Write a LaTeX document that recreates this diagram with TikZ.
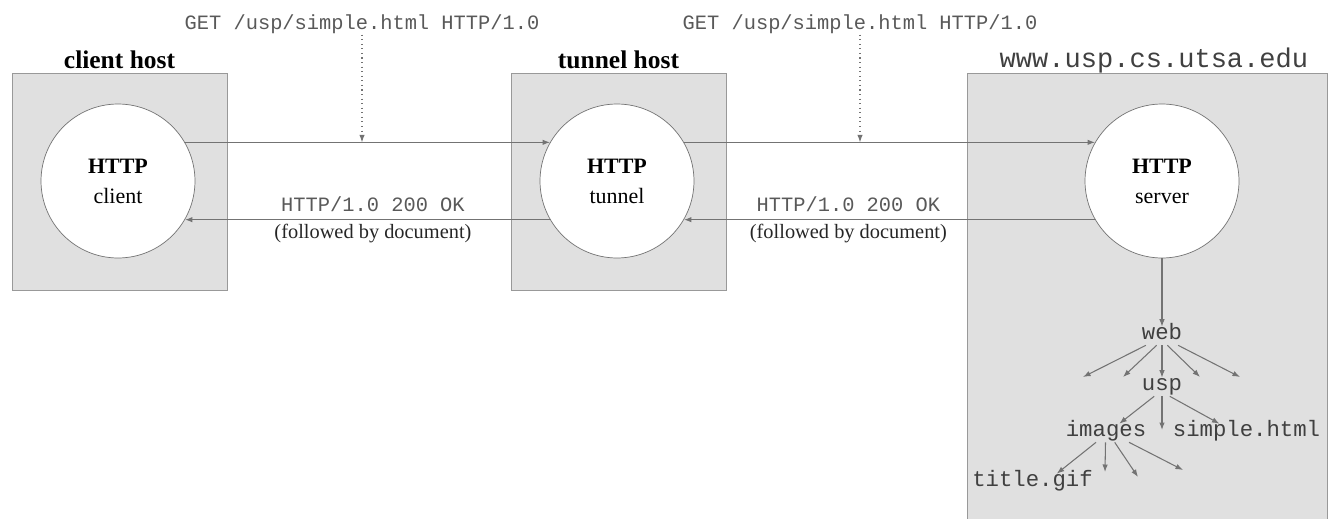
\documentclass[tikz,border=0pt]{standalone}
\usepackage{fontspec}
\setmainfont{Liberation Serif}
\setmonofont{Liberation Mono}
\usepackage{tikz}
\usetikzlibrary{positioning,arrows.meta}
\newcommand{\sz}[2]{\fontsize{#1}{#2}\selectfont}
\tikzset{
  host/.style={draw=black!40, fill=black!12, inner sep=0pt},
  hostlbl/.style={font=\sz{14.5}{17}\bfseries, inner sep=1pt},
  srvlbl/.style={font=\sz{15.4}{18}\ttfamily, text=black!75, inner sep=1pt},
  proc/.style={circle, draw=black!55, fill=white, minimum size=3.08cm, inner sep=0pt, align=center, font=\sz{12.5}{17}},
  msg/.style={font=\sz{11.6}{14}\ttfamily, text=black!65, inner sep=1pt, text height=0.62em, text depth=0.18em},
  note/.style={font=\sz{11.6}{14}, text=black!85, inner sep=1pt},
  file/.style={font=\sz{12.7}{15}\ttfamily, text=black!75, inner sep=1pt, text height=0.62em, text depth=0.2em},
  flow/.style={-{Latex[length=1.5mm, width=1.1mm]}, draw=black!55, line width=0.6pt},
  cue/.style={flow, dotted},
}
\begin{document}
\begin{tikzpicture}[x=0.02cm, y=-0.02cm]
  \useasboundingbox (0,0) rectangle (1330,518);
  % hosts
  \node[host, minimum width=4.3cm, minimum height=4.34cm] (clientbox) at (119.5,181.5) {};
  \node[host, minimum width=4.3cm, minimum height=4.34cm] (tunnelbox) at (618.5,181.5) {};
  \node[host, minimum width=7.2cm, minimum height=9.14cm] (serverbox) at (1147,301.5) {};
  \node[hostlbl, above=1pt of clientbox] (clientlbl) {client host};
  \node[hostlbl, above=1pt of tunnelbox] (tunnellbl) {tunnel host};
  \node[srvlbl, above left=-1.5pt and 0.34cm of serverbox.north east] (serverlbl) {www.usp.cs.utsa.edu};
  % processes
  \node[proc] (client) at (118,181) {\textbf{HTTP}\\client};
  \node[proc] (tunnel) at (617,181) {\textbf{HTTP}\\tunnel};
  \node[proc] (server) at (1162,181) {\textbf{HTTP}\\server};
  % requests
  \node[msg] (get1) at (362,25.5) {GET /usp/simple.html HTTP/1.0};
  \node[msg] (get2) at (860,25.5) {GET /usp/simple.html HTTP/1.0};
  \draw[flow] (client.30) -- (tunnel.150);
  \draw[flow] (tunnel.30) -- (server.150);
  \draw[cue] (get1.south) -- (get1.south |- client.30);
  \draw[cue] (get2.south) -- (get2.south |- tunnel.30);
  % replies
  \draw[flow] (tunnel.210) -- node[msg, pos=0.485, above=1.5pt] (ok1) {HTTP/1.0 200 OK}
    node[note, pos=0.485, below=1.5pt] (doc1) {(followed by document)} (client.330);
  \draw[flow] (server.210) -- node[msg, pos=0.6, above=1.5pt] (ok2) {HTTP/1.0 200 OK}
    node[note, pos=0.6, below=1.5pt] (doc2) {(followed by document)} (tunnel.330);
  % file tree
  \node[file] (web) at (1162,336) {web};
  \node[file] (usp) at (1162,387) {usp};
  \node[file] (images) at (1106,433) {images};
  \node[file] (simple) at (1246.5,433) {simple.html};
  \node[file] (title) at (1032.5,483) {title.gif};
  \coordinate (w1) at (1083,377);
  \coordinate (w2) at (1123,377);
  \coordinate (w4) at (1200,377);
  \coordinate (w5) at (1240,377);
  \coordinate (u2) at (1162,430);
  \coordinate (i2) at (1105,472);
  \coordinate (i3) at (1138,477);
  \coordinate (i4) at (1183,470);
  \draw[flow] (server) -- (web);
  \draw[flow] (web.-150) -- (w1);
  \draw[flow] (web.-120) -- (w2);
  \draw[flow] (web) -- (usp);
  \draw[flow] (web.-60) -- (w4);
  \draw[flow] (web.-30) -- (w5);
  \draw[flow] (usp.-130) -- (images.35);
  \draw[flow] (usp) -- (u2);
  \draw[flow] (usp.-50) -- (simple.161);
  \draw[flow] (images.-137) -- (title.21);
  \draw[flow] (images.-93) -- (i2);
  \draw[flow] (images.-47) -- (i3);
  \draw[flow] (images.-22) -- (i4);
\end{tikzpicture}
\end{document}
